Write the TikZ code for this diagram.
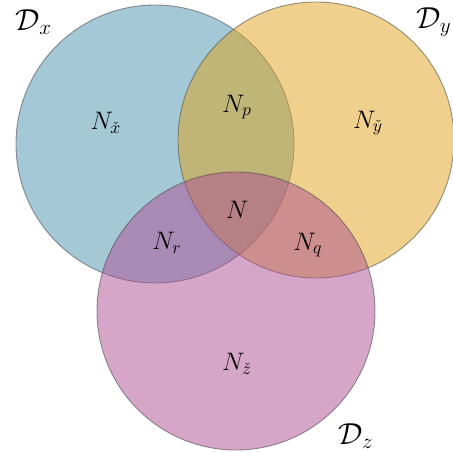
\documentclass[tikz,border=0pt]{standalone}
\usepackage{amsmath,amssymb}
\usepackage{xcolor}
\definecolor{bluDx}{RGB}{75,145,175}
\definecolor{gialloDy}{RGB}{223,161,25}
\definecolor{rosaDz}{RGB}{173,77,145}

\begin{document}
\begin{tikzpicture}[
    x=0.02cm, y=-0.02cm,
    line cap=round,
    line join=round,
    insieme/.style   = {line width=0.5pt, draw=black!70, draw opacity=0.6, fill opacity=0.5},
    regione/.style   = {font=\Large, inner sep=1pt},
    dominio/.style   = {font=\LARGE, inner sep=1pt}
]
\useasboundingbox (0,0) rectangle (453,451);

% ---- insiemi ----
\filldraw[insieme, fill=bluDx]    (155,144) circle (139);
\filldraw[insieme, fill=gialloDy] (316,140) circle (138);
\filldraw[insieme, fill=rosaDz]   (236,311) circle (139);

% ---- nomi dei domini ----
\node[dominio] (Dx) at (34,22)  {$\mathcal{D}_x$};
\node[dominio] (Dy) at (434,22) {$\mathcal{D}_y$};
\node[dominio] (Dz) at (356,436) {$\mathcal{D}_z$};

% ---- regioni ----
\node[regione] (Nx) at (106,123) {$N_{\check{x}}$};
\node[regione] (Np) at (237,107) {$N_p$};
\node[regione] (Ny) at (368,123) {$N_{\check{y}}$};
\node[regione] (N)  at (237,210) {$N$};
\node[regione] (Nr) at (167,243) {$N_r$};
\node[regione] (Nq) at (308,245) {$N_q$};
\node[regione] (Nz) at (237,364) {$N_{\check{z}}$};

\end{tikzpicture}
\end{document}
